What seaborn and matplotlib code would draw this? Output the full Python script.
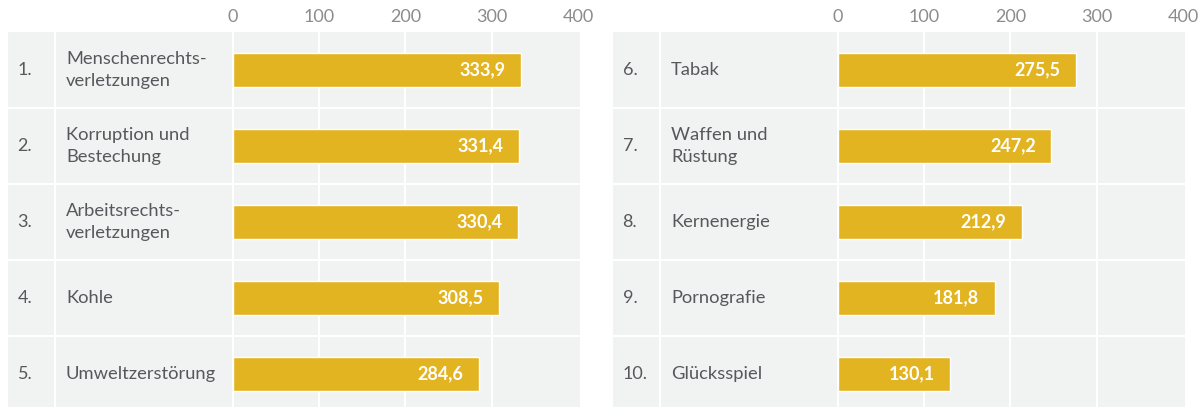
import matplotlib
matplotlib.use("Agg")
import matplotlib.pyplot as plt
import pandas as pd
import seaborn as sns

# data
ranks_left = ["1.", "2.", "3.", "4.", "5."]
labels_left = ["Menschenrechts-\nverletzungen", "Korruption und\nBestechung",
               "Arbeitsrechts-\nverletzungen", "Kohle", "Umweltzerstörung"]
values_left = [333.9, 331.4, 330.4, 308.5, 284.6]

ranks_right = ["6.", "7.", "8.", "9.", "10."]
labels_right = ["Tabak", "Waffen und\nRüstung", "Kernenergie", "Pornografie", "Glücksspiel"]
values_right = [275.5, 247.2, 212.9, 181.8, 130.1]

x_ticks = [0, 100, 200, 300, 400]

BAR = "#E3B421"
BG = "#F1F2F2"
TXT = "#56585B"
TICK = "#8C8C8C"

sns.set_theme(style="white")
plt.rcParams["font.family"] = ["Lato", "DejaVu Sans"]

fig = plt.figure(figsize=(12.04, 4.07), dpi=100)
W, H = 1204, 407


def panel(left_px, ranks, labels, values):
    ax = fig.add_axes([left_px / W, 0, 572 / W, 375 / H])
    df = pd.DataFrame({"label": labels, "value": values})
    sns.barplot(data=df, x="value", y="label", orient="h", color=BAR,
                width=0.46, saturation=1, ax=ax, zorder=3)
    ax.set_facecolor(BG)
    ax.set_xlim(-260, 402)
    ax.set_ylim(4.5 - 5 / 76, -0.5)
    for s in ax.spines.values():
        s.set_visible(False)
    ax.set_xlabel("")
    ax.set_ylabel("")
    ax.set_yticks([])
    ax.xaxis.tick_top()
    ax.set_xticks(x_ticks)
    ax.set_xticklabels([str(t) for t in x_ticks], color=TICK, fontsize=13)
    ax.tick_params(axis="x", length=0, pad=5)

    # white grid / separators
    for xv in [-206] + x_ticks[:-1]:
        ax.axvline(xv, color="white", lw=1.5, zorder=1)
    for yv in [0.5, 1.5, 2.5, 3.5]:
        ax.axhline(yv, color="white", lw=1.5, zorder=1)

    for i, (r, lab, v) in enumerate(zip(ranks, labels, values)):
        ax.text(-249, i, r, ha="left", va="center", color=TXT, fontsize=13)
        ax.text(-193, i, lab, ha="left", va="center", color=TXT, fontsize=13.2,
                linespacing=1.4)
        ax.text(v - 18, i, f"{v:.1f}".replace(".", ","), ha="right", va="center",
                color="white", fontsize=13, fontweight="bold", zorder=4)
    return ax


panel(8, ranks_left, labels_left, values_left)
panel(613, ranks_right, labels_right, values_right)

fig.savefig("out.png", dpi=100, facecolor="white")
